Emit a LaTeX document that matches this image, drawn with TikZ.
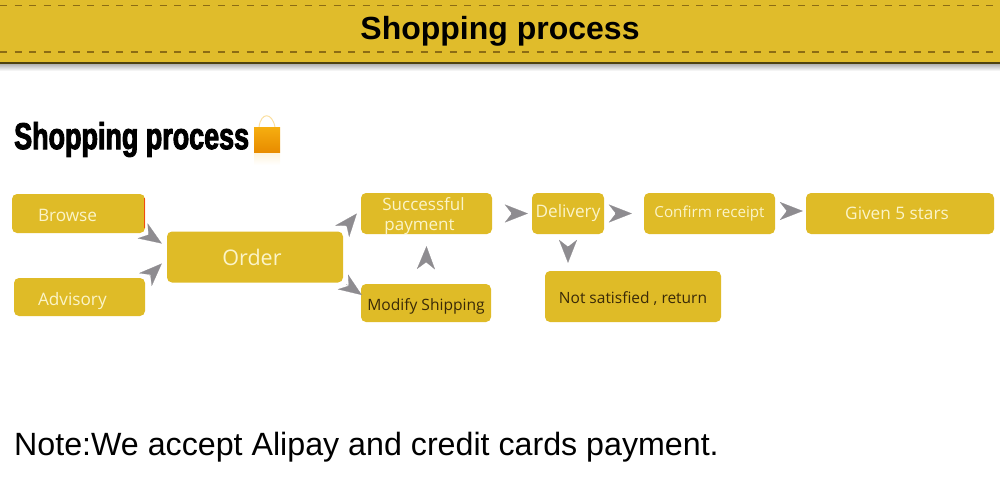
\documentclass[tikz,border=0pt]{standalone}
\usepackage{fontspec}
\setmainfont{Liberation Sans}
\newfontfamily\boxfont{Open Sans}
\newfontfamily\headfont[FakeStretch=0.72,FakeBold=2.5]{Liberation Sans Bold}
\usetikzlibrary{arrows.meta}
\definecolor{bandyellow}{HTML}{E0BC2B}
\definecolor{boxyellow}{HTML}{DFBB27}
\definecolor{stitch}{HTML}{8C6C14}
\definecolor{creamtext}{HTML}{FBF4C8}
\definecolor{darktext}{HTML}{3A2A08}
\definecolor{arrowgray}{HTML}{8E8C90}
\definecolor{bagtop}{HTML}{F6AE10}
\definecolor{bagbottom}{HTML}{E88C00}
\tikzset{
  flowbox/.style={fill=boxyellow,rounded corners=5pt,inner sep=0pt,align=center,text=creamtext,font=\boxfont\fontsize{17.2}{20}\selectfont},
  darkbox/.style={flowbox,text=darktext},
  flowarrow/.style={arrowgray,line width=.2pt,shorten <=6pt,-{Stealth[length=23pt,width=18pt,inset=7pt]}},
  stitchline/.style={stitch,line width=1.5pt,dash pattern=on 7pt off 7.5pt}
}
\begin{document}
\begin{tikzpicture}[x=1pt,y=-1pt]
\useasboundingbox (0,0) rectangle (1000,479);
% band
\fill[bandyellow] (0,0) rectangle (1000,63);
\shade[top color=black!30,bottom color=white] (0,64) rectangle (1000,71);
\fill[black!65!bandyellow] (0,62) rectangle (1000,64);
\draw[stitchline] (0,5.5) -- (1000,5.5);
\draw[stitchline] (0,52) -- (1000,52);
\node (title) at (500,31) {\fontsize{32}{38}\selectfont\bfseries Shopping process};
% heading and bag
\node[anchor=west,inner sep=0pt] (heading) at (14,139.5) {\headfont\fontsize{37.4}{42}\selectfont Shopping process};
\draw[bagtop!40!white,line width=1pt] (259,127) .. controls (261,112) and (272,112) .. (275,127);
\shade[top color=bagtop,bottom color=bagbottom] (254,127) rectangle (280,152);
\shade[top color=bagtop!15,bottom color=white] (254,153) rectangle (280,165);
% boxes
\node[flowbox,text width=81pt,inner xsep=26pt,minimum height=39pt,align=left,text height=15pt,text depth=0pt] (browse) at (78.5,213.5) {Browse};
\node[flowbox,text width=83pt,inner xsep=24pt,minimum height=38pt,align=left,text height=16pt,text depth=0pt] (advisory) at (79.5,297) {Advisory};
\node[flowbox,minimum width=176pt,minimum height=51pt,font=\boxfont\fontsize{21.5}{25}\selectfont] (order) at (255,257) {\hspace*{-6pt}Order};
\node[flowbox,inner ysep=-3pt,minimum width=131pt,minimum height=41pt,font=\boxfont\fontsize{17}{20}\selectfont] (payment) at (426.5,213.5) {\hspace*{-6pt}\rule{0pt}{19pt}Successful\\\hspace*{-14pt}payment};
\node[darkbox,minimum width=130pt,minimum height=38pt,font=\boxfont\fontsize{15.6}{18}\selectfont,text height=15pt,text depth=0pt] (modify) at (426,303) {Modify Shipping};
\node[flowbox,minimum width=72pt,minimum height=41pt] (delivery) at (568,213.5) {Delivery};
\node[flowbox,minimum width=131pt,minimum height=41pt,font=\boxfont\fontsize{15.2}{18}\selectfont] (confirm) at (709.5,213.5) {Confirm receipt};
\node[flowbox,minimum width=188pt,minimum height=41pt] (stars) at (900,213.5) {\hspace*{-6pt}Given 5 stars};
\node[darkbox,minimum width=176pt,minimum height=51pt,font=\boxfont\fontsize{15.5}{18}\selectfont,text height=13pt,text depth=0pt] (refund) at (633,296.5) {Not satisfied , return};
\draw[red!60!boxyellow,line width=.8pt] ([shift={(-.5,4)}]browse.north east) -- ([shift={(-.5,-5)}]browse.south east);
% arrows
\draw[flowarrow] ([shift={(-2,-2)}]browse.south east) -- ([shift={(-5,-13.5)}]order.west);
\draw[flowarrow] ([shift={(0,2)}]advisory.north east) -- ([shift={(-5,6.5)}]order.west);
\draw[flowarrow] ([shift={(-1,0)}]order.north east) -- ([shift={(-4,0)}]payment.west);
\draw[flowarrow] ([shift={(-2,-2)}]order.south east) -- ([shift={(1,-8)}]modify.west);
\draw[flowarrow] ([shift={(0,-16)}]modify.north) -- ([shift={(0,12)}]payment.south);
\draw[flowarrow] ([xshift=13pt]payment.east) -- ([xshift=-4pt]delivery.west);
\draw[flowarrow] ([xshift=5pt]delivery.east) -- ([xshift=-12pt]confirm.west);
\draw[flowarrow] ([shift={(5,-2.5)}]confirm.east) -- ([shift={(-3,-2.5)}]stars.west);
\draw[flowarrow] ([shift={(0,6)}]delivery.south) -- ([shift={(-65,-8)}]refund.north);
% note
\node[anchor=west,inner sep=0pt] (note) at (14,447) {\fontsize{32.2}{38}\selectfont Note:We accept Alipay and credit cards payment.};
\end{tikzpicture}
\end{document}
